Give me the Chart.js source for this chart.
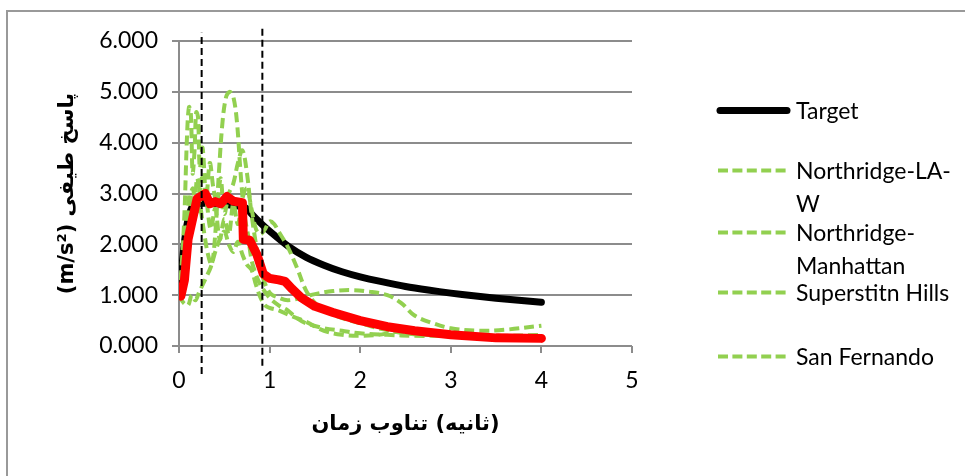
<!DOCTYPE html>
<html>
<head>
<meta charset="utf-8">
<script src="https://cdn.jsdelivr.net/npm/chart.js@4.4.1/dist/chart.umd.min.js"></script>
<style>
  body { margin: 0; background: #fff; font-family: Lato, "DejaVu Sans", sans-serif; }
  #wrap { position: relative; width: 965px; height: 476px; overflow: hidden; }
  #frame { position: absolute; left: 6px; top: 10px; width: 1000px; height: 500px;
           border-left: 2px solid #999; border-top: 2px solid #999; }
  #chart { position: absolute; left: 0; top: 0; }
  .item { position: absolute; left: 716px; font-size: 23px; line-height: 33px; color: #000; }
  .item svg { position: absolute; left: 0; top: 0; }
  .item span { position: absolute; left: 80px; top: 0; width: 165px; }
</style>
</head>
<body>
<div id="wrap">
  <div id="frame"></div>
  <canvas id="chart" width="965" height="476"></canvas>
  <div id="legend"></div>
</div>
<script>
// series names (legend order)
const seriesNames = ["Target", "Northridge-LA-W", "Northridge-Manhattan", "Superstitn Hills", "San Fernando"];

// design spectrum (Target)
const targetT = [0, 0.15, 0.7, 0.75, 0.8, 0.9, 1.0, 1.2, 1.4, 1.6, 1.8, 2.0, 2.25, 2.5, 2.75, 3.0, 3.25, 3.5, 3.75, 4.0];
const targetSa = [1.0, 2.75, 2.75, 2.7, 2.6, 2.42, 2.26, 1.97, 1.75, 1.59, 1.46, 1.36, 1.26, 1.17, 1.1, 1.04, 0.99, 0.94, 0.9, 0.86];

// scaled mean (red)
const meanT = [0.02, 0.06, 0.1, 0.15, 0.2, 0.25, 0.29, 0.34, 0.4, 0.46, 0.53, 0.6, 0.7, 0.71, 0.78, 0.86, 0.93, 1.0, 1.1, 1.17, 1.25, 1.35, 1.5, 1.7, 2.0, 2.3, 2.6, 3.0, 3.5, 4.0];
const meanSa = [0.98, 1.3, 2.1, 2.5, 2.9, 2.95, 3.0, 2.8, 2.84, 2.8, 2.94, 2.85, 2.82, 2.1, 2.08, 1.8, 1.42, 1.33, 1.3, 1.27, 1.12, 0.95, 0.78, 0.66, 0.5, 0.38, 0.3, 0.22, 0.16, 0.15];

// records
const laT = [0, 0.04, 0.08, 0.12, 0.16, 0.2, 0.24, 0.28, 0.32, 0.36, 0.4, 0.44, 0.48, 0.52, 0.56, 0.6, 0.64, 0.68, 0.72, 0.76, 0.8, 0.85, 0.9, 1.0, 1.1, 1.2, 1.3, 1.4, 1.6, 1.8, 2.0, 2.3, 2.6, 3.0, 3.5, 4.0];
const laSa = [1.0, 1.4, 2.2, 3.0, 2.4, 3.3, 2.7, 2.2, 1.8, 1.6, 2.2, 3.4, 4.4, 4.9, 5.0, 4.9, 4.4, 3.4, 2.6, 2.2, 1.7, 1.4, 1.2, 0.95, 0.8, 0.7, 0.55, 0.45, 0.35, 0.3, 0.25, 0.22, 0.2, 0.2, 0.18, 0.17];

const manT = [0, 0.03, 0.06, 0.09, 0.11, 0.13, 0.15, 0.17, 0.19, 0.21, 0.23, 0.26, 0.3, 0.34, 0.38, 0.42, 0.46, 0.5, 0.55, 0.6, 0.65, 0.7, 0.75, 0.8, 0.85, 0.9, 1.0, 1.1, 1.2, 1.35, 1.5, 1.7, 1.9, 2.1, 2.3, 2.45, 2.6, 2.8, 3.0, 3.3, 3.6, 4.0];
const manSa = [1.0, 1.6, 2.6, 4.2, 4.7, 4.6, 3.4, 3.8, 4.6, 4.5, 3.5, 3.9, 2.9, 3.6, 3.1, 2.8, 3.3, 2.6, 3.0, 3.2, 3.6, 3.85, 3.4, 2.6, 2.0, 1.5, 1.05, 0.95, 0.9, 0.95, 1.02, 1.08, 1.1, 1.07, 1.0, 0.85, 0.6, 0.45, 0.35, 0.3, 0.32, 0.4];

const supT = [0, 0.05, 0.1, 0.15, 0.2, 0.25, 0.3, 0.35, 0.4, 0.45, 0.5, 0.55, 0.6, 0.65, 0.7, 0.75, 0.8, 0.85, 0.9, 0.95, 1.0, 1.05, 1.1, 1.2, 1.3, 1.4, 1.5, 1.6, 1.8, 2.0, 2.2, 2.5, 3.0, 3.5, 4.0];
const supSa = [1.0, 1.7, 2.5, 3.1, 2.6, 3.3, 2.9, 2.3, 2.7, 2.1, 2.5, 2.2, 2.8, 2.4, 2.9, 3.1, 2.7, 2.3, 2.2, 2.3, 2.45, 2.4, 2.25, 1.95, 1.55, 1.1, 0.85, 0.7, 0.55, 0.45, 0.35, 0.25, 0.2, 0.18, 0.2];

const sfT = [0, 0.05, 0.1, 0.14, 0.18, 0.22, 0.26, 0.3, 0.35, 0.4, 0.45, 0.5, 0.55, 0.6, 0.65, 0.7, 0.75, 0.8, 0.85, 0.9, 0.95, 1.0, 1.1, 1.2, 1.3, 1.4, 1.6, 1.8, 2.0, 2.2, 2.4, 2.7, 3.0, 3.5, 4.0];
const sfSa = [1.0, 0.85, 0.8, 1.0, 0.9, 1.05, 1.2, 1.35, 1.55, 1.85, 2.1, 2.25, 2.0, 1.85, 2.05, 1.8, 1.6, 1.5, 1.2, 0.95, 0.8, 0.75, 0.7, 0.62, 0.55, 0.48, 0.3, 0.22, 0.2, 0.22, 0.28, 0.3, 0.25, 0.2, 0.22];

// period range markers (dashed verticals)
const markerT = [0.25, 0.92];
const markerLow = [-0.55, -0.39];
const markerHigh = [6.16, 6.28];

const xTitle = "زمان\u200E \u200Eتناوب\u200E (ثانیه)";
const yTitle = "(m/s²) پاسخ طیفی";

const green = "#92D050";
const gridGray = "#8c8c8c";

function pts(t, v) {
  return t.map((x, i) => ({ x: x, y: v[i] }));
}

const datasets = [];

markerT.forEach((t, i) => {
  datasets.push({
    data: [{ x: t, y: markerLow[i] }, { x: t, y: markerHigh[i] }],
    borderColor: "#000", borderWidth: 2, borderDash: [7, 4],
    showLine: true, pointRadius: 0, clip: false, order: 0
  });
});

datasets.push({
  data: pts(meanT, meanSa), borderColor: "#ff0000", borderWidth: 9,
  showLine: true, pointRadius: 0, tension: 0, borderJoinStyle: "round", borderCapStyle: "round", order: 1
});

[[laT, laSa], [manT, manSa], [supT, supSa], [sfT, sfSa]].forEach(s => {
  datasets.push({
    data: pts(s[0], s[1]), borderColor: green, borderWidth: 4, borderDash: [10, 5],
    showLine: true, pointRadius: 0, tension: 0.35, order: 2
  });
});

datasets.push({
  data: pts(targetT, targetSa), borderColor: "#000", borderWidth: 7,
  showLine: true, pointRadius: 0, tension: 0.2, borderCapStyle: "round", order: 3
});

const tickFont = { family: "Lato, 'DejaVu Sans', sans-serif", size: 23 };
const titleFont = { family: "'DejaVu Sans', sans-serif", size: 21, weight: "bold" };

new Chart(document.getElementById("chart"), {
  type: "scatter",
  data: { datasets: datasets },
  options: {
    responsive: false,
    animation: false,
    layout: { padding: { left: 40, right: 333, top: 41, bottom: 0 } },
    plugins: { legend: { display: false }, tooltip: { enabled: false } },
    scales: {
      x: {
        type: "linear", min: 0, max: 5,
        afterFit: s => { s.height = 130; },
        ticks: { stepSize: 1, padding: 14, color: "#000", font: tickFont },
        grid: { drawOnChartArea: false, drawTicks: true, tickLength: 7, color: gridGray, lineWidth: 2 },
        border: { display: false },
        title: { display: true, text: xTitle, color: "#000", font: titleFont, padding: { top: 4, bottom: 39 } }
      },
      y: {
        min: 0, max: 6,
        afterFit: s => { s.width = 139; },
        ticks: { stepSize: 1, padding: 14, color: "#000", font: tickFont, callback: v => v.toFixed(3) },
        grid: { color: gridGray, lineWidth: 2, tickLength: 7 },
        border: { color: gridGray, width: 2 },
        title: { display: true, text: yTitle, color: "#000", font: titleFont, padding: { top: 15, bottom: 0 } }
      }
    }
  }
});

// legend on the right, like the spreadsheet one
const legendTops = [110.7, 170, 232.7, 292.3, 356];
const legend = document.getElementById("legend");
seriesNames.forEach((name, i) => {
  const item = document.createElement("div");
  item.className = "item";
  item.style.top = (legendTops[i] - 16.5) + "px";
  const line = i === 0
    ? '<line x1="4" y1="16.5" x2="71" y2="16.5" stroke="#000" stroke-width="7" stroke-linecap="round"/>'
    : '<line x1="2" y1="16.5" x2="72" y2="16.5" stroke="' + green + '" stroke-width="4" stroke-dasharray="10 4.4"/>';
  item.innerHTML = '<svg width="76" height="33">' + line + '</svg><span>' + name + '</span>';
  legend.appendChild(item);
});
</script>
</body>
</html>
